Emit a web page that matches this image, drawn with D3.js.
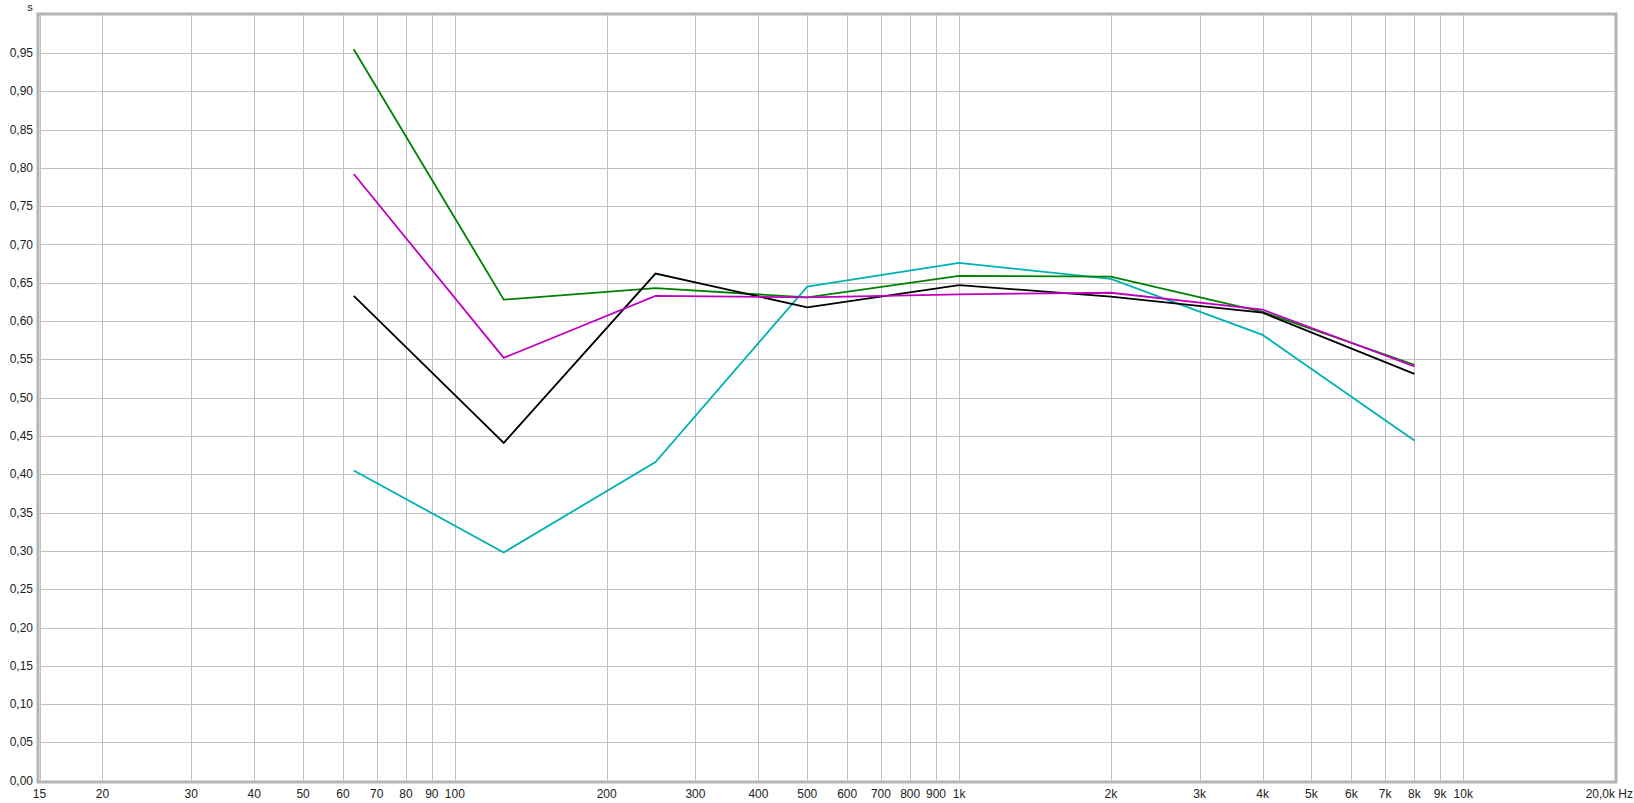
<!DOCTYPE html>
<html>
<head>
<meta charset="utf-8">
<script src="https://cdn.jsdelivr.net/npm/d3@7"></script>
<style>
  html, body { margin: 0; padding: 0; background: #ffffff; }
  svg { display: block; }
  text { font-family: "Liberation Sans", Arial, sans-serif; font-size: 12px; fill: #222; }
</style>
</head>
<body>
<svg id="chart" width="1634" height="803"></svg>
<script>
// ---- data ----
const freqs = [63, 125, 250, 500, 1000, 2000, 4000, 8000];
const greenValues   = [0.955, 0.628, 0.643, 0.631, 0.659, 0.658, 0.612, 0.543];
const magentaValues = [0.792, 0.552, 0.633, 0.631, 0.635, 0.637, 0.615, 0.541];
const blackValues   = [0.633, 0.441, 0.662, 0.618, 0.647, 0.632, 0.611, 0.531];
const cyanValues    = [0.405, 0.298, 0.416, 0.645, 0.676, 0.655, 0.582, 0.444];
const seriesNames  = ["cyan", "green", "black", "magenta"];
const seriesColors = ["#00b2b2", "#008000", "#000000", "#c000c0"];

const xTickValues = [15, 20, 30, 40, 50, 60, 70, 80, 90, 100, 200, 300, 400, 500, 600, 700, 800, 900,
                     1000, 2000, 3000, 4000, 5000, 6000, 7000, 8000, 9000, 10000];
const xTickLabels = ["15", "20", "30", "40", "50", "60", "70", "80", "90", "100", "200", "300", "400", "500",
                     "600", "700", "800", "900", "1k", "2k", "3k", "4k", "5k", "6k", "7k", "8k", "9k", "10k"];
const xEndLabel = "20,0k Hz";
const yTickValues = d3.range(0, 20).map(i => i * 0.05);
const yUnit = "s";

// ---- layout ----
const svg = d3.select("#chart");
const pLeft = 39.5, pRight = 1615, pTop = 14.7, pBottom = 780.7;

const x = d3.scaleLog().domain([15, 20000]).range([pLeft, pRight]);
const y = d3.scaleLinear().domain([0, 1.0]).range([pBottom, pTop]);

// gridlines
const grid = svg.append("g");
grid.selectAll("line.v").data(xTickValues.concat([20000])).enter().append("line")
  .attr("x1", d => Math.round(x(d)) + 0.5).attr("x2", d => Math.round(x(d)) + 0.5)
  .attr("y1", pTop).attr("y2", pBottom)
  .attr("stroke", "#c0c0c0").attr("stroke-width", 1);
grid.selectAll("line.h").data(yTickValues).enter().append("line")
  .attr("y1", d => Math.round(y(d)) + 0.5).attr("y2", d => Math.round(y(d)) + 0.5)
  .attr("x1", pLeft).attr("x2", pRight)
  .attr("stroke", "#c0c0c0").attr("stroke-width", 1);

// frame
svg.append("rect")
  .attr("x", 38).attr("y", 14)
  .attr("width", 1616 - 38).attr("height", 782 - 14)
  .attr("fill", "none").attr("stroke", "#b4b4b4").attr("stroke-width", 3);

// y labels
const fmt = d3.format(".2f");
svg.append("g").selectAll("text").data(yTickValues).enter().append("text")
  .attr("x", 33).attr("y", d => y(d) + 4)
  .attr("text-anchor", "end")
  .text(d => fmt(d).replace(".", ","));
svg.append("text").attr("x", 30).attr("y", 11).attr("text-anchor", "middle")
  .style("font-size", "11px").text(yUnit);

// x labels
svg.append("g").selectAll("text").data(xTickValues).enter().append("text")
  .attr("x", d => x(d)).attr("y", 798)
  .attr("text-anchor", "middle")
  .text((d, i) => xTickLabels[i]);
svg.append("text").attr("x", 1633).attr("y", 798).attr("text-anchor", "end").text(xEndLabel);

// lines
const allSeries = [cyanValues, greenValues, blackValues, magentaValues];
const line = d3.line().x(d => x(d[0])).y(d => y(d[1]));
allSeries.forEach((vals, i) => {
  svg.append("path")
    .datum(freqs.map((f, j) => [f, vals[j]]))
    .attr("d", line)
    .attr("fill", "none")
    .attr("stroke", seriesColors[i])
    .attr("stroke-width", 1.8)
    .attr("stroke-linejoin", "miter")
    .attr("class", seriesNames[i]);
});
</script>
</body>
</html>
